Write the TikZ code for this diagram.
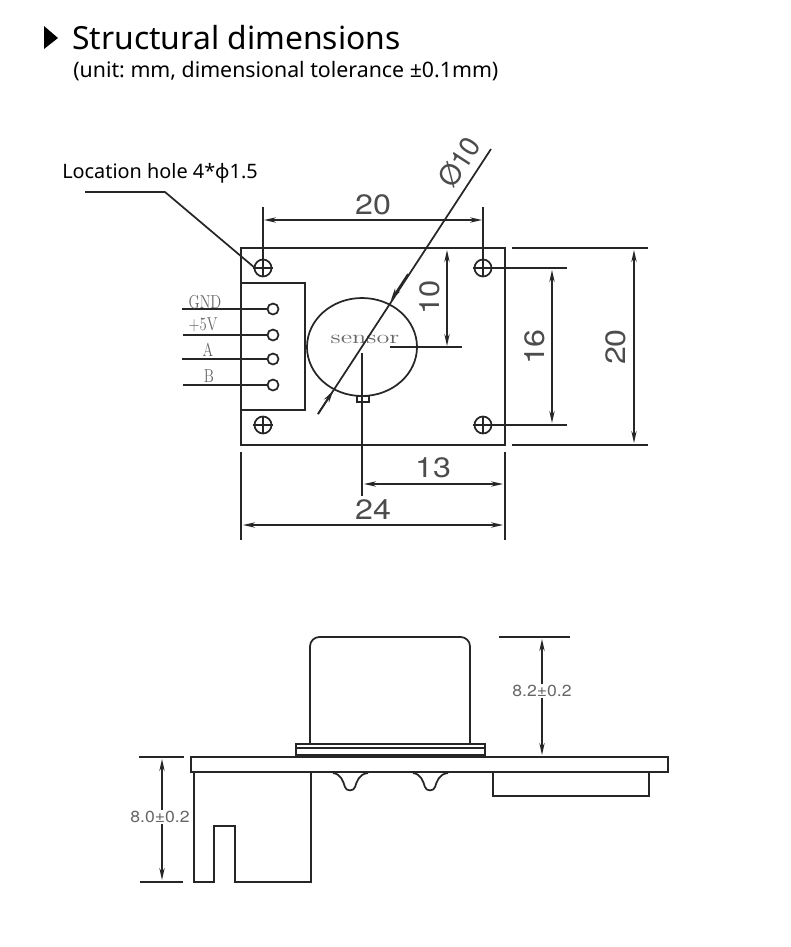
\documentclass[tikz,border=0pt]{standalone}
\usepackage{fontspec}
\usepackage{graphicx}
\usetikzlibrary{arrows.meta}
\setmainfont{Noto Sans}
\newfontfamily\cadfont{TeX Gyre Heros}
\newfontfamily\pinfont{Latin Modern Roman}
\frenchspacing

\tikzset{
  part/.style={line width=1.3pt,black!85},
  thin part/.style={line width=0.9pt,black!85},
  dim/.style={line width=1.3pt,black!85,{Stealth[length=9pt,width=4pt]}-{Stealth[length=9pt,width=4pt]}},
  dim text/.style={inner sep=0pt,text=black!70,font=\cadfont\fontsize{21}{21}\selectfont},
  tol text/.style={inner sep=1pt,fill=white,text=black!60,font=\cadfont\fontsize{12}{12}\selectfont},
  pin text/.style={inner sep=0pt,text=black!60,font=\pinfont\fontsize{14}{14}\selectfont},
}

\begin{document}
\begin{tikzpicture}[x=0.75pt,y=0.75pt,yscale=-1,xscale=1]
\useasboundingbox (0,0) rectangle (790,947);

% Title
\fill [black] (44,26) -- (58,38) -- (44,49) -- cycle;
\node (title) [anchor=base west,inner sep=0pt,font=\fontsize{23.9}{24}\selectfont] at (72,49) {Structural dimensions};
\node (unit) [anchor=base west,inner sep=0pt,font=\fontsize{16}{16}\selectfont] at (73,77) {(unit: mm, dimensional tolerance ±0.1mm)};

% Leader of the location hole
\node (holelabel) [anchor=base west,inner sep=0pt,font=\fontsize{14.9}{15}\selectfont] at (62,178) {Location hole 4*φ1.5};
\draw [part] (85,192) -- (165,192) -- (255,268);

% Board, top view
\draw [part] (241,248) rectangle (505,445);
\draw [part] (241,283) -- (305,283) -- (305,410) -- (241,410);
\draw [part] (362,347) ellipse (55 and 49);
\draw [part] (357,396) rectangle (369,402);

% Holes
\foreach \hx/\hy in {263/268,483/268,263/425,483/425}{
  \draw [part] (\hx,\hy) circle (8.5);
  \draw [part] (\hx-10,\hy) -- (\hx+10,\hy);
  \draw [part] (\hx,\hy-9) -- (\hx,\hy+9);
}

% Pins
\foreach \py/\sx/\pname/\tx/\ty in {309/182/GND/205/302,335/183/+5V/203/325,359/182/A/208/350,385/183/B/209/376}{
  \draw [part] (\sx,\py) -- (267.5,\py);
  \draw [part] (273,\py) circle (5.5);
  \node (pin\pname) [pin text] at (\tx,\ty) {\scalebox{0.78}[1]{\pname}};
}
\node (sensor) [pin text] at (365,339) {\scalebox{1.4}[1]{sensor}};

% Diameter
\draw [part] (318,414) -- (491,149);
\draw [-{Stealth[length=9pt,width=4.5pt]},part] (408,274) -- (391,300);
\draw [-{Stealth[length=9pt,width=4.5pt]},part] (318,414) -- (333,391);
\node (diam) [dim text,rotate=57] at (459,162) {Ø10};

% Width of the holes
\draw [part] (263,207) -- (263,268);
\draw [part] (483,207) -- (483,268);
\draw [dim] (264,220) -- (482,220);
\node (holewidth) [dim text] at (373,205) {\scalebox{1.15}[1]{20}};

% Centre of the sensor
\draw [part] (390,347) -- (462,347);
\draw [dim] (447,250) -- (447,346);
\node (centrey) [dim text,rotate=90] at (430,297) {\scalebox{1.1}[1]{10}};
\draw [part] (362,353) -- (362,496);
\draw [dim] (364,484) -- (503,484);
\node (centrex) [dim text] at (433,468) {\scalebox{1.15}[1]{13}};

% Height of the holes
\draw [part] (491,268) -- (567,268);
\draw [part] (491,425) -- (567,425);
\draw [dim] (552,270) -- (552,423);
\node (holeheight) [dim text,rotate=90] at (535,347) {\scalebox{1.15}[1]{16}};

% Board height
\draw [part] (512,248) -- (648,248);
\draw [part] (512,445) -- (648,445);
\draw [dim] (634,250) -- (634,443);
\node (boardheight) [dim text,rotate=90] at (616,347) {\scalebox{1.15}[1]{20}};

% Board width
\draw [part] (241,452) -- (241,540);
\draw [part] (505,452) -- (505,540);
\draw [dim] (243,525) -- (503,525);
\node (boardwidth) [dim text] at (373,510) {\scalebox{1.15}[1]{24}};

% Side view
\draw [part] (191,757) rectangle (668,772);
\draw [part] (194,772) -- (194,882) -- (214,882) -- (214,826) -- (235,826) -- (235,882) -- (311,882) -- (311,772);
\draw [part] (493,772) -- (493,796) -- (649,796) -- (649,772);

% Sensor can
\draw [part,rounded corners=7] (310,744) -- (310,637) -- (470,637) -- (470,744);
\draw [part] (296,757) -- (296,744) -- (485,744) -- (485,757);
\draw [thin part] (296,748) -- (485,748);
\draw [line width=1.8pt,black!85] (296,755.5) -- (485,755.5);

% Solder bumps
\foreach \bx in {0,80}{
  \draw [part] (333+\bx,773) .. controls (341+\bx,774) and (343+\bx,781) .. (345+\bx,787) .. controls (346+\bx,791.5) and (354+\bx,791.5) .. (355+\bx,787) .. controls (357+\bx,781) and (359+\bx,774) .. (368+\bx,773);
}

% Can height
\draw [part] (499,637) -- (570,637);
\draw [dim] (542,639) -- (542,755);
\node (canheight) [tol text] at (542,691) {\scalebox{1.1}[1]{8.2±0.2}};

% Total height
\draw [part] (139,757) -- (184,757);
\draw [part] (140,882) -- (183,882);
\draw [dim] (162,759) -- (162,880);
\node (totalheight) [tol text] at (160,817) {\scalebox{1.1}[1]{8.0±0.2}};

\end{tikzpicture}
\end{document}
